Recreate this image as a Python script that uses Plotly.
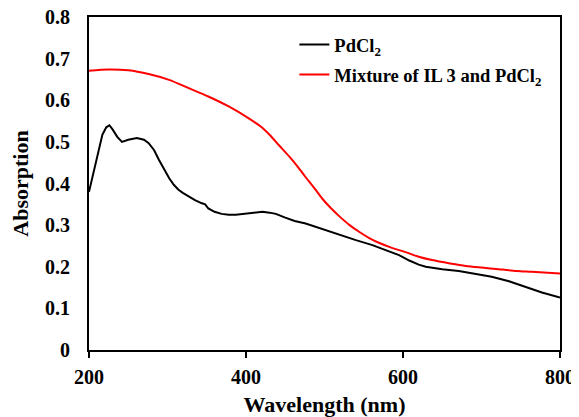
import plotly.graph_objects as go

# Data
wl_pd = [200, 205, 210, 217, 222, 226, 230, 236, 242, 250, 261, 270, 276, 283, 289, 295, 302, 308, 314, 320,
         327, 335, 343, 348, 352, 360, 369, 378, 387, 395, 403, 412, 421, 430, 438, 450, 462, 476, 490, 505,
         519, 540, 561, 582, 595, 608, 620, 629, 650, 671, 690, 713, 735, 756, 777, 800]
abs_pd = [0.38, 0.42, 0.46, 0.517, 0.535, 0.54, 0.53, 0.512, 0.50, 0.505, 0.509, 0.505, 0.497, 0.48, 0.457, 0.435,
          0.413, 0.397, 0.385, 0.377, 0.369, 0.36, 0.353, 0.35, 0.34, 0.332, 0.327, 0.325, 0.325, 0.327, 0.329,
          0.331, 0.332, 0.33, 0.327, 0.318, 0.31, 0.304, 0.295, 0.286, 0.276, 0.264, 0.252, 0.236, 0.228, 0.215,
          0.205, 0.20, 0.194, 0.19, 0.184, 0.176, 0.165, 0.151, 0.138, 0.126]

wl_mix = [200, 225, 250, 276, 302, 327, 352, 378, 403, 420, 430, 442, 455, 466, 476, 487, 497, 508, 519, 532,
          544, 557, 570, 585, 595, 605, 620, 637, 660, 680, 700, 722, 745, 764, 800]
abs_mix = [0.671, 0.674, 0.672, 0.663, 0.649, 0.629, 0.609, 0.585, 0.557, 0.535, 0.517, 0.492, 0.465, 0.44, 0.415,
           0.389, 0.364, 0.341, 0.321, 0.30, 0.284, 0.269, 0.257, 0.246, 0.240, 0.234, 0.224, 0.216, 0.208, 0.202,
           0.198, 0.194, 0.19, 0.188, 0.184]

x_ticks = [200, 400, 600, 800]
y_ticks = [0, 0.1, 0.2, 0.3, 0.4, 0.5, 0.6, 0.7, 0.8]
y_tick_labels = ["0", "0.1", "0.2", "0.3", "0.4", "0.5", "0.6", "0.7", "0.8"]

font_family = "Liberation Serif"

fig = go.Figure()
fig.add_trace(go.Scatter(x=wl_pd, y=abs_pd, mode="lines", name="PdCl<sub>2</sub>",
                         line=dict(color="black", width=2), legend="legend"))
fig.add_trace(go.Scatter(x=wl_mix, y=abs_mix, mode="lines", name="Mixture of IL 3 and PdCl<sub>2</sub>",
                         line=dict(color="#ff0000", width=2, shape="spline", smoothing=0.8), legend="legend2"))

leg_common = dict(xanchor="left", yanchor="middle",
                  font=dict(family=font_family, size=18.5, color="black", weight="bold"),
                  bgcolor="rgba(0,0,0,0)")

# page body adds an 8px offset, so the figure is sized to fit the window
fig.update_layout(
    width=571, height=409,
    margin=dict(l=81, r=19, t=9, b=67, autoexpand=False),
    plot_bgcolor="white", paper_bgcolor="white",
    font=dict(family=font_family, color="black", size=18),
    showlegend=True,
    legend=dict(x=0.436, y=0.916, **leg_common),
    legend2=dict(x=0.436, y=0.826, **leg_common),
    xaxis=dict(range=[200, 800], tickvals=x_ticks, ticks="outside", ticklen=6, tickwidth=2,
               tickcolor="black", showline=True, linecolor="black", linewidth=2, mirror=True,
               showgrid=False, zeroline=False, ticklabelstandoff=2, automargin=False,
               ticklabeloverflow="allow",
               tickfont=dict(family=font_family, size=20, weight="bold"),
               title=dict(text="Wavelength (nm)", font=dict(family=font_family, size=22, weight="bold"), standoff=11)),
    yaxis=dict(range=[0, 0.8], tickvals=y_ticks, ticktext=y_tick_labels, ticks="",
               showline=True, linecolor="black", linewidth=2, mirror=True,
               showgrid=False, zeroline=False, ticklabelstandoff=13, automargin=False,
               ticklabeloverflow="allow",
               tickfont=dict(family=font_family, size=20, weight="bold"),
               title=dict(text="Absorption", font=dict(family=font_family, size=22, weight="bold"), standoff=10)),
)

fig.write_html("out.html")
